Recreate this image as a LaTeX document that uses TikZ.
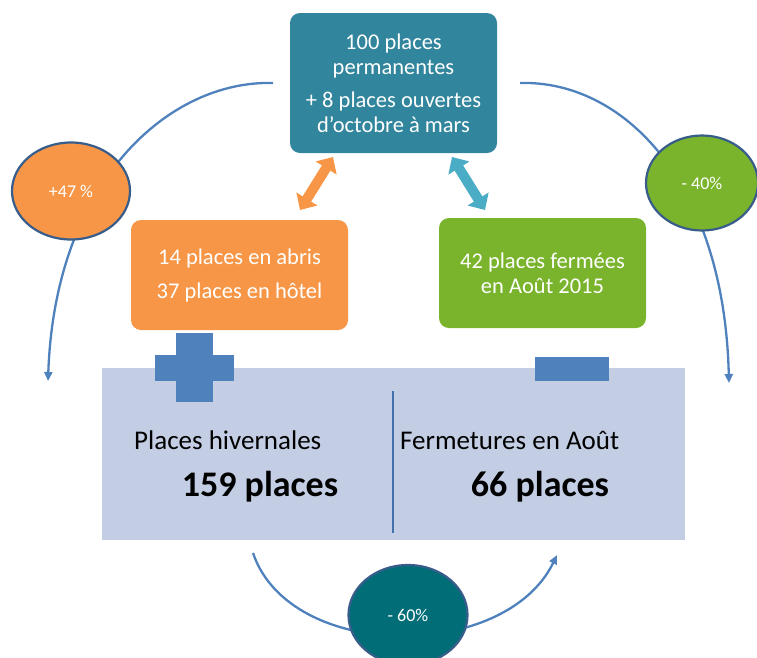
\documentclass[tikz,border=0pt]{standalone}
\usepackage{fontspec}
\setmainfont{Carlito}
\usetikzlibrary{shapes.geometric,arrows.meta}
\definecolor{tealbox}{HTML}{31859C}
\definecolor{orangebox}{HTML}{F79646}
\definecolor{greenbox}{HTML}{79B42C}
\definecolor{bigbox}{HTML}{C3CDE3}
\definecolor{signblue}{HTML}{4F81BD}
\definecolor{arcblue}{HTML}{4F81BD}
\definecolor{ellborder}{HTML}{385D8A}
\definecolor{darkteal}{HTML}{016D77}
\definecolor{divider}{HTML}{4470AE}
\definecolor{lightteal}{HTML}{4BACC6}
\tikzset{
  box/.style={rectangle, rounded corners=10pt, inner sep=0pt, text=white, align=center},
  pct/.style={ellipse, draw=ellborder, line width=2.2pt, inner sep=0pt, text=white, font=\fontsize{18}{20}\selectfont},
  arc/.style={draw=arcblue, line width=2.3pt},
  arctip/.style={-{Triangle[length=9pt,width=8pt]}},
  dbl/.style={line width=10pt, {Triangle[length=13pt,width=24pt]}-{Triangle[length=13pt,width=24pt]}, shorten <=0pt, shorten >=0pt},
  sign/.style={fill=signblue, draw=none},
}
\begin{document}
\begin{tikzpicture}[x=1pt,y=-1pt]
\useasboundingbox (0,0) rectangle (757,657);
% arcs
\coordinate (la0) at (273,83);
\coordinate (la1) at (48,381);
\coordinate (ra0) at (520,83);
\coordinate (ra1) at (729,383);
\coordinate (ba0) at (253,553);
\coordinate (ba1) at (557,555);
\draw[arc,arctip] (la0) .. controls (170,80) and (55,180) .. (la1);
\draw[arc,arctip] (ra0) .. controls (622,80) and (724,180) .. (ra1);
\draw[arc,arctip] (ba0) .. controls (290,662) and (505,662) .. (ba1);
% big box
\node[rectangle, fill=bigbox, minimum width=583pt, minimum height=172pt, inner sep=0pt] (big) at (393.5,454) {};
\coordinate (dv0) at (393,391);
\coordinate (dv1) at (393,533);
\draw[divider, line width=2.5pt] (dv0) -- (dv1);
% plus and minus
\fill[sign] (176,333) rectangle (213,402);
\fill[sign] (155,355) rectangle (234,381);
\fill[sign] (535,357) rectangle (609,381);
% boxes
\node[box, fill=tealbox, minimum width=207pt, minimum height=140pt, font=\fontsize{22.5}{25}\selectfont] (top) at (393.5,83)
  {100 places\\permanentes\\[8pt]+ 8 places ouvertes\\d’octobre à mars};
\node[box, fill=orangebox, minimum width=217pt, minimum height=110pt, font=\fontsize{22.5}{34}\selectfont] (orange) at (239.5,275)
  {14 places en abris\\37 places en hôtel};
\node[box, fill=greenbox, minimum width=207pt, minimum height=110pt, font=\fontsize{22.5}{25}\selectfont] (green) at (542.5,273)
  {42 places fermées\\en Août 2015};
% double arrows
\coordinate (oa0) at (300,210);
\coordinate (oa1) at (333,157);
\coordinate (ta0) at (452,157);
\coordinate (ta1) at (485,210);
\draw[dbl, draw=orangebox] (oa0) -- (oa1);
\draw[dbl, draw=lightteal] (ta0) -- (ta1);
% texts in big box
\node[anchor=west, inner sep=0pt, font=\fontsize{27}{30}\selectfont] (ph) at (134,440) {Places hivernales};
\node[anchor=west, inner sep=0pt, font=\fontsize{27}{30}\selectfont] (fa) at (400,440) {Fermetures en Août};
\node[inner sep=0pt, font=\fontsize{36}{40}\selectfont\bfseries] (n159) at (260,487) {159 places};
\node[inner sep=0pt, font=\fontsize{36}{40}\selectfont\bfseries] (n66) at (540,487) {66 places};
% ellipses
\node[pct, fill=orangebox, minimum width=118pt, minimum height=97pt] (e47) at (71,191) {+47 \%};
\node[pct, fill=greenbox, minimum width=112pt, minimum height=95pt] (e40) at (702,183) {- 40\%};
\node[pct, fill=darkteal, minimum width=119pt, minimum height=100pt] (e60) at (408,615) {- 60\%};
\end{tikzpicture}
\end{document}
